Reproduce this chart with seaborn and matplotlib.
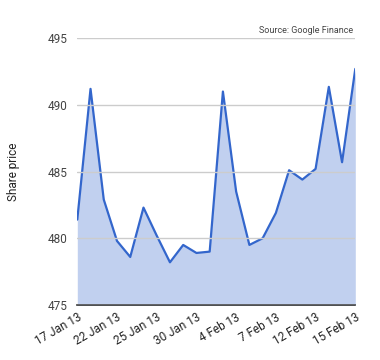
import pandas as pd
import matplotlib
matplotlib.use("Agg")
import matplotlib.pyplot as plt
import seaborn as sns

# Trading days, 17 Jan 13 .. 15 Feb 13
dates = ["17 Jan 13", "18 Jan 13", "21 Jan 13", "22 Jan 13", "23 Jan 13", "24 Jan 13",
         "25 Jan 13", "28 Jan 13", "29 Jan 13", "30 Jan 13", "31 Jan 13", "1 Feb 13",
         "4 Feb 13", "5 Feb 13", "6 Feb 13", "7 Feb 13", "8 Feb 13", "11 Feb 13",
         "12 Feb 13", "13 Feb 13", "14 Feb 13", "15 Feb 13"]
prices = [481.4, 491.2, 482.9, 479.8, 478.6, 482.3, 480.2, 478.2, 479.5, 478.9, 479.0,
          491.0, 483.5, 479.5, 480.0, 481.9, 485.1, 484.4, 485.2, 491.35, 485.7, 492.7]
y_ticks = [475, 480, 485, 490, 495]

df = pd.DataFrame({"date": dates, "price": prices})
df["pos"] = range(len(df))

sns.set_style("white")
plt.rcParams["font.family"] = ["Roboto", "DejaVu Sans"]

fig = plt.figure(figsize=(3.8, 3.6), dpi=100)
ax = fig.add_axes([0.2034, 0.1528, 0.7316, 0.7412])

line_col = "#3366cc"
ax.fill_between(df["pos"], df["price"], 475, color=line_col, alpha=0.3, linewidth=0)
sns.lineplot(data=df, x="pos", y="price", ax=ax, color=line_col, linewidth=1.6)

ax.set_xlim(0, len(df) - 1)
ax.set_ylim(475, 495)
ax.set_yticks(y_ticks)
ax.set_yticklabels([str(v) for v in y_ticks], fontsize=8.5, color="#444444")
tick_pos = df["pos"][::3]
ax.set_xticks(tick_pos)
ax.set_xticklabels(df["date"][::3], rotation=30, ha="right", rotation_mode="anchor",
                   fontsize=8.5, color="#222222")
ax.tick_params(axis="both", length=0, pad=7)
ax.tick_params(axis="x", pad=4)

ax.grid(axis="y", color="#cccccc", linewidth=1)
ax.set_axisbelow(False)
for s in ["top", "right", "left"]:
    ax.spines[s].set_visible(False)
ax.spines["bottom"].set_color("#333333")
ax.spines["bottom"].set_linewidth(1.2)

ax.set_xlabel("")
ax.set_ylabel("Share price", fontsize=8.5, color="#222222", labelpad=20)
ax.text(0.993, 1.012, "Source: Google Finance", transform=ax.transAxes, ha="right",
        va="bottom", fontsize=6.5, color="#444444")

fig.savefig("out.png", dpi=100)
